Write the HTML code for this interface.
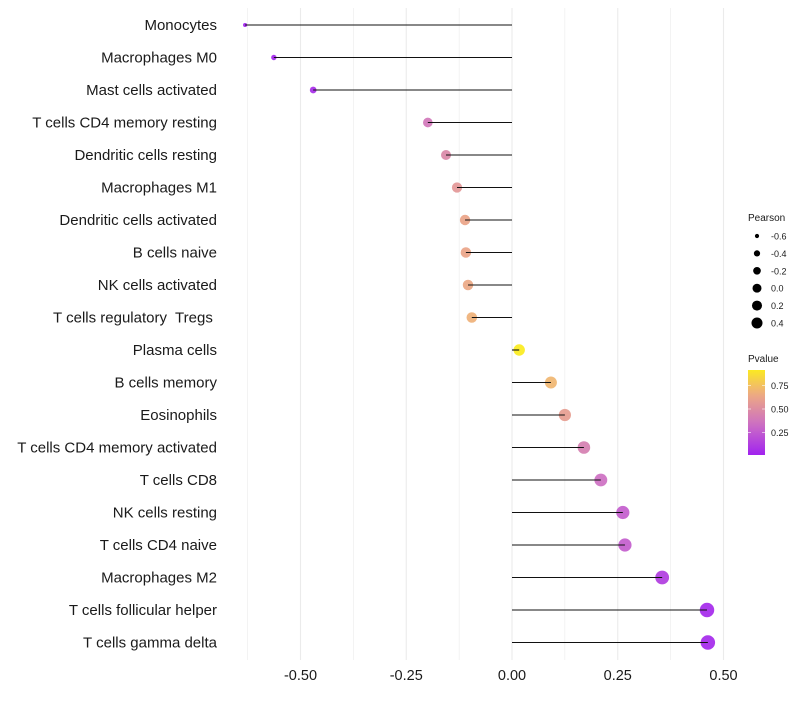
<!DOCTYPE html>
<html><head><meta charset="utf-8"><style>
body{margin:0;background:#fff;font-family:"Liberation Sans",sans-serif}
text{white-space:pre}
</style></head><body>
<svg id="c" width="800" height="700"></svg>
<script>
const categories=["Monocytes","Macrophages M0","Mast cells activated","T cells CD4 memory resting","Dendritic cells resting","Macrophages M1","Dendritic cells activated","B cells naive","NK cells activated","T cells regulatory  Tregs ","Plasma cells","B cells memory","Eosinophils","T cells CD4 memory activated","T cells CD8","NK cells resting","T cells CD4 naive","Macrophages M2","T cells follicular helper","T cells gamma delta"];
const pearson=[-0.631,-0.563,-0.470,-0.199,-0.156,-0.130,-0.111,-0.109,-0.104,-0.095,0.017,0.092,0.125,0.170,0.210,0.262,0.267,0.355,0.461,0.463];
const pvalue=[0.01,0.02,0.05,0.38,0.47,0.55,0.62,0.62,0.64,0.68,0.92,0.70,0.58,0.42,0.34,0.26,0.26,0.12,0.04,0.04];
const xTicks=[-0.5,-0.25,0,0.25,0.5];
const xTickLabels=["-0.50","-0.25","0.00","0.25","0.50"];
const legendPearson=[-0.6,-0.4,-0.2,0.0,0.2,0.4];
const legendPvalTicks=[0.75,0.5,0.25];
const NS="http://www.w3.org/2000/svg";
const svg=document.getElementById('c');
const X=v=>512+v*423;
const Y=i=>25+i*32.5;
const R=v=>Math.sqrt(Math.max(1,32+v*44));
const RL=v=>Math.sqrt(Math.max(1,20+v*26));
const stops=[[0,[160,32,240]],[0.33,[204,110,196]],[0.66,[238,172,128]],[1,[255,255,0]]];
function col(p){for(let k=1;k<stops.length;k++){if(p<=stops[k][0]){const a=stops[k-1],b=stops[k],t=(p-a[0])/(b[0]-a[0]);return 'rgb('+a[1].map((c,j)=>Math.round(c+(b[1][j]-c)*t)).join(',')+')';}}return 'rgb(255,255,0)';}
function el(t,a,txt){const e=document.createElementNS(NS,t);for(const k in a)e.setAttribute(k,a[k]);if(txt!=null)e.textContent=txt;svg.appendChild(e);return e;}
for(let v=-0.625;v<=0.51;v+=0.125){const g=el('line',{x1:X(v),x2:X(v),y1:8,y2:660,stroke:'#ebebeb','stroke-width':Math.abs((v*4)%1)<0.01?1.1:0.6});

}
xTicks.forEach((v,i)=>{const t=el('text',{x:X(v),y:680,'text-anchor':'middle','font-size':14.5,fill:'#1a1a1a'},xTickLabels[i]);

});
categories.forEach((c,i)=>{
const t=el('text',{x:217,y:Y(i)+5,'text-anchor':'end','font-size':15,fill:'#1a1a1a'},c);


const d=el('circle',{cx:X(pearson[i]),cy:Y(i),r:R(pearson[i]),fill:col(pvalue[i]),'fill-opacity':0.92});


const l=el('line',{x1:X(0),x2:X(pearson[i]),y1:Y(i),y2:Y(i),stroke:'#111','stroke-width':1.1});


});
const lt=el('text',{x:748,y:221,'font-size':10,fill:'#1a1a1a'},'Pearson');


legendPearson.forEach((v,i)=>{const y=236+i*17.4;
const c=el('circle',{cx:757,cy:y,r:RL(v),fill:'#000'});


const t=el('text',{x:771,y:y+3.5,'font-size':9,fill:'#1a1a1a'},v.toFixed(1));

});
const pt=el('text',{x:748,y:362,'font-size':10,fill:'#1a1a1a'},'Pvalue');


const defs=el('defs',{});
const lg=document.createElementNS(NS,'linearGradient');lg.setAttribute('id','g');lg.setAttribute('x1',0);lg.setAttribute('x2',0);lg.setAttribute('y1',1);lg.setAttribute('y2',0);defs.appendChild(lg);
for(let k=0;k<=10;k++){const p=0.01+0.9*k/10;const s=document.createElementNS(NS,'stop');s.setAttribute('offset',k/10);s.setAttribute('stop-color',col(p));lg.appendChild(s);}
const bar=el('rect',{x:748,y:370,width:17,height:85,fill:'url(#g)'});


const PY=p=>362+(1-p)*94;
legendPvalTicks.forEach(p=>{
el('line',{x1:748,x2:751,y1:PY(p),y2:PY(p),stroke:'#fff','stroke-width':0.6});
el('line',{x1:762,x2:765,y1:PY(p),y2:PY(p),stroke:'#fff','stroke-width':0.6});
const t=el('text',{x:771,y:PY(p)+3.5,'font-size':9,fill:'#1a1a1a'},p.toFixed(2));

});
</script>
</body></html>
